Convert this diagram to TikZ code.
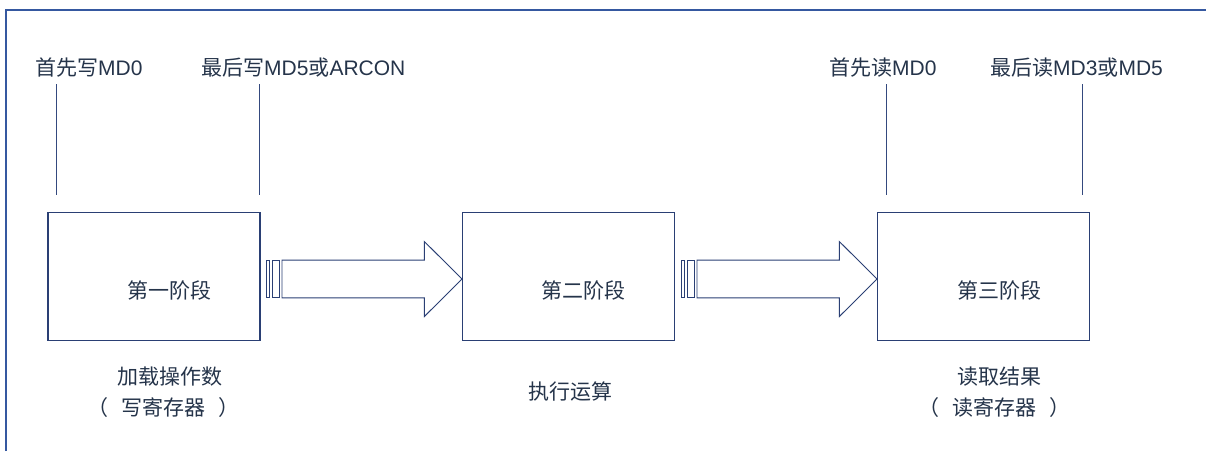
\documentclass[tikz,border=0pt]{standalone}
\usepackage{fontspec}
\setmainfont{Liberation Sans}
\newfontfamily\cjk{Noto Sans CJK SC}
\usetikzlibrary{arrows}
\definecolor{framec}{HTML}{3558A0}
\definecolor{boxc}{HTML}{2A3F74}
\definecolor{tickc}{HTML}{34497E}
\definecolor{textc}{HTML}{25344A}

\begin{document}
\begin{tikzpicture}[x=1pt,y=-1pt]
    \tikzstyle{stage}=[draw=boxc,line width=1.1pt,minimum width=212pt,minimum height=128pt,inner sep=0]
    \tikzstyle{lbl}=[inner sep=0,text=textc,font=\fontsize{21}{25}\selectfont]
    \tikzstyle{tick}=[draw=tickc,line width=1pt]
    \tikzstyle{arr}=[draw=boxc,line width=0.9pt,fill=white]
    \newcommand{\stripearrow}[1]{
        \path (#1.west) ++(0,2.5) coordinate (tip);
        \draw[arr] (tip) -- ++(-37.6,-37.5) -- ++(0,18.65) -- ++(-142.4,0) -- ++(0,37.7) -- ++(142.4,0) -- ++(0,18.65) -- cycle;
        \draw[arr] (tip) ++(-196,-18.85) rectangle ++(3.4,37.7);
        \draw[arr] (tip) ++(-190,-18.85) rectangle ++(7.4,37.7);
    }
    \useasboundingbox (0,0) rectangle (1206,451);
    \draw[draw=framec,line width=1.2pt] (6,451) -- (6,10) -- (1206,10);
    \path (154,276.5) node[stage] (s1) {};
    \path (568.5,276.5) node[stage] (s2) {};
    \path (983.5,276.5) node[stage] (s3) {};
    \path (s1.center) ++(15,13.5) node[lbl] (t1) {\cjk 第一阶段};
    \path (s2.center) ++(15,13.5) node[lbl] (t2) {\cjk 第二阶段};
    \path (s3.center) ++(16,13.5) node[lbl] (t3) {\cjk 第三阶段};
    \path (35,68) node[lbl,anchor=west] (w0) {{\cjk 首先写}MD0};
    \path (201,68) node[lbl,anchor=west] (w5) {{\cjk 最后写}MD5{\cjk 或}ARCON};
    \path (829,68) node[lbl,anchor=west] (r0) {{\cjk 首先读}MD0};
    \path (990,68) node[lbl,anchor=west] (r5) {{\cjk 最后读}MD3{\cjk 或}MD5};
    \coordinate (w0a) at (56,84);
    \coordinate (w0b) at (56,195);
    \coordinate (w5a) at (259,84);
    \coordinate (w5b) at (259,195);
    \coordinate (r0a) at (886,84);
    \coordinate (r0b) at (886,195);
    \coordinate (r5a) at (1082,84);
    \coordinate (r5b) at (1082,195);
    \draw[tick] (w0a) -- (w0b);
    \draw[tick] (w5a) -- (w5b);
    \draw[tick] (r0a) -- (r0b);
    \draw[tick] (r5a) -- (r5b);
    \stripearrow{s2}
    \stripearrow{s3}
    \path (169.5,377) node[lbl] (load) {\cjk 加载操作数};
    \path (163.5,408) node[lbl] (loadw) {\cjk （\hspace{13pt}写寄存器\hspace{13pt}）};
    \path (570,391) node[lbl] (exec) {\cjk 执行运算};
    \path (999.5,377) node[lbl] (res) {\cjk 读取结果};
    \path (994,408) node[lbl] (resr) {\cjk （\hspace{13pt}读寄存器\hspace{13pt}）};
\end{tikzpicture}
\end{document}
